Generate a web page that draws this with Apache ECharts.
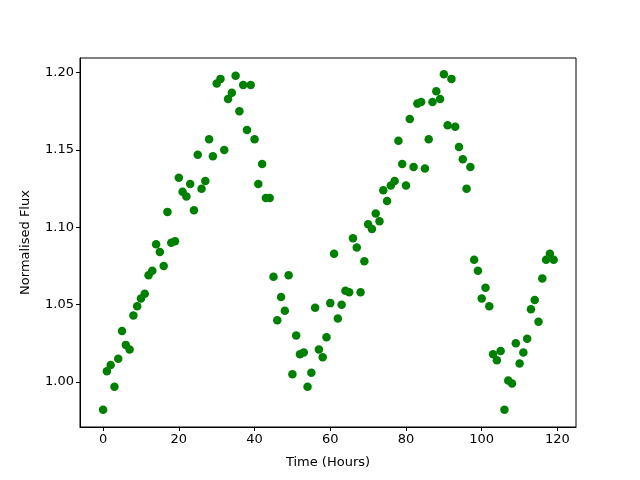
<!DOCTYPE html>
<html>
<head>
<meta charset="utf-8">
<script src="https://cdn.jsdelivr.net/npm/echarts@6/dist/echarts.min.js"></script>
<style>
  html, body { margin: 0; padding: 0; background: #fff; }
  #chart { width: 640px; height: 480px; }
</style>
</head>
<body>
<div id="chart"></div>
<script>
// hours since start, one reading per hour
const hours = []
for (let i = 0; i < 120; i++) hours.push(i)

// normalised flux
const flux = [
  0.982, 1.007, 1.011, 0.997, 1.015, 1.033, 1.024, 1.021, 1.043, 1.049,
  1.054, 1.057, 1.069, 1.072, 1.089, 1.084, 1.075, 1.110, 1.090, 1.091,
  1.132, 1.123, 1.120, 1.128, 1.111, 1.147, 1.125, 1.130, 1.157, 1.146,
  1.193, 1.196, 1.150, 1.183, 1.187, 1.198, 1.175, 1.192, 1.163, 1.192,
  1.157, 1.128, 1.141, 1.119, 1.119, 1.068, 1.040, 1.055, 1.046, 1.069,
  1.005, 1.030, 1.018, 1.019, 0.997, 1.006, 1.048, 1.021, 1.016, 1.029,
  1.051, 1.083, 1.041, 1.050, 1.059, 1.058, 1.093, 1.087, 1.058, 1.078,
  1.102, 1.099, 1.109, 1.104, 1.124, 1.117, 1.127, 1.130, 1.156, 1.141,
  1.127, 1.170, 1.139, 1.180, 1.181, 1.138, 1.157, 1.181, 1.188, 1.183,
  1.199, 1.166, 1.196, 1.165, 1.152, 1.144, 1.125, 1.139, 1.079, 1.072,
  1.054, 1.061, 1.049, 1.018, 1.014, 1.020, 0.982, 1.001, 0.999, 1.025,
  1.012, 1.019, 1.028, 1.047, 1.053, 1.039, 1.067, 1.079, 1.083, 1.079
]

const xTicks = [0, 20, 40, 60, 80, 100, 120]
const yTicks = [1.00, 1.05, 1.10, 1.15, 1.20]

const points = hours.map((h, i) => [h, flux[i]])

const chart = echarts.init(document.getElementById('chart'))
const font = 'DejaVu Sans'

chart.setOption({
  animation: false,
  backgroundColor: '#fff',
  grid: {
    left: 80,
    right: 64,
    top: 58,
    bottom: 53,
    show: true,
    borderColor: '#000',
    borderWidth: 1
  },
  xAxis: {
    type: 'value',
    min: -6.1,
    max: 124.9,
    name: 'Time (Hours)',
    nameLocation: 'middle',
    nameGap: 29,
    nameTextStyle: { color: '#000', fontSize: 13, fontFamily: font },
    splitLine: { show: false },
    axisLine: { show: true, onZero: false, lineStyle: { color: '#000' } },
    axisTick: { show: true, length: 4, lineStyle: { color: '#000' }, customValues: xTicks },
    axisLabel: { color: '#000', fontSize: 13, fontFamily: font, margin: 6, customValues: xTicks }
  },
  yAxis: {
    type: 'value',
    min: 0.9709,
    max: 1.2095,
    name: 'Normalised Flux',
    nameLocation: 'middle',
    nameGap: 48,
    nameTextStyle: { color: '#000', fontSize: 13, fontFamily: font },
    splitLine: { show: false },
    axisLine: { show: true, onZero: false, lineStyle: { color: '#000' } },
    axisTick: { show: true, length: 4, lineStyle: { color: '#000' }, customValues: yTicks },
    axisLabel: {
      color: '#000', fontSize: 13, fontFamily: font, margin: 6, customValues: yTicks,
      formatter: v => v.toFixed(2)
    }
  },
  series: [{
    type: 'scatter',
    data: points,
    symbol: 'circle',
    symbolSize: 8.5,
    itemStyle: { color: '#008000', opacity: 1 }
  }]
})
</script>
</body>
</html>
